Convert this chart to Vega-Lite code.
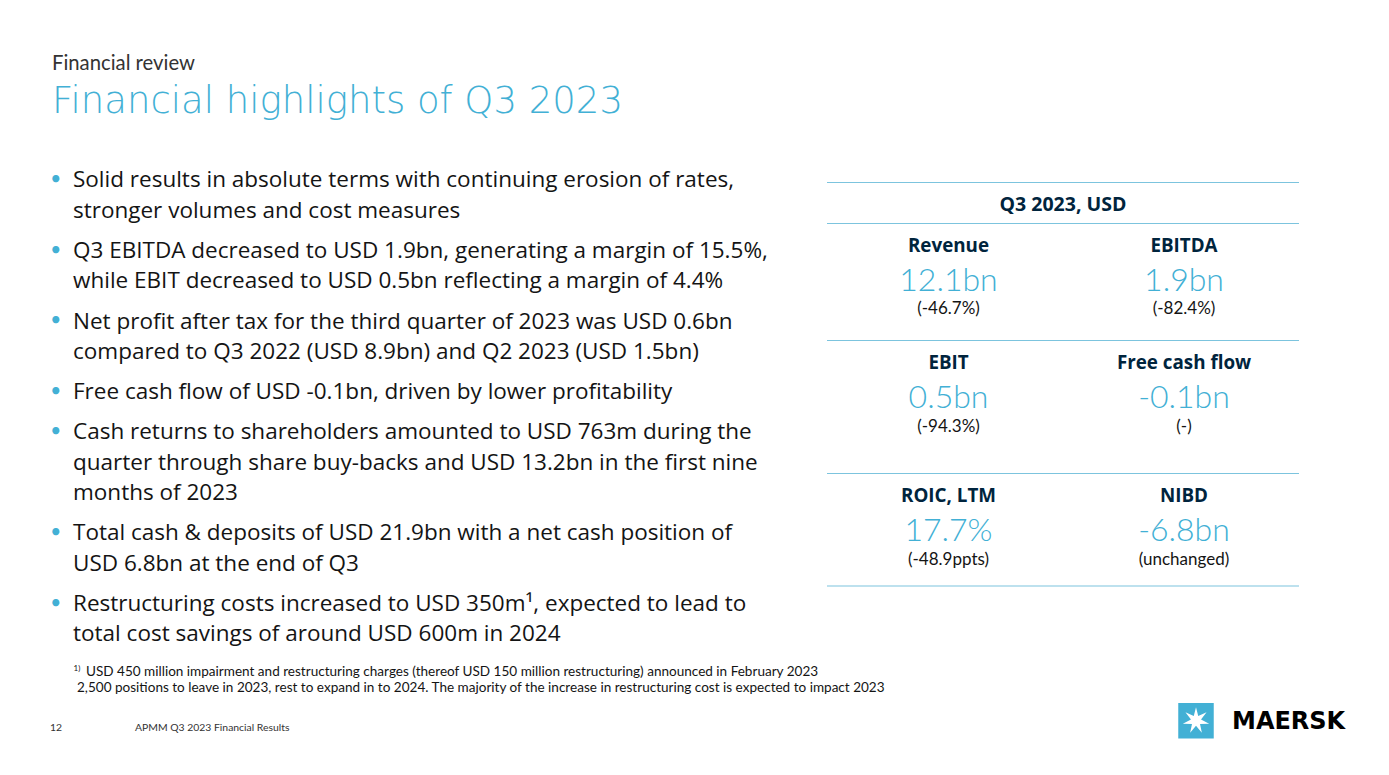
{
  "$schema": "https://vega.github.io/schema/vega-lite/v6.json",
  "width": 1389,
  "height": 775,
  "padding": 0,
  "autosize": {"type": "fit", "contains": "padding"},
  "background": "#ffffff",
  "config": {
    "view": {"stroke": null},
    "axis": {"disable": true},
    "text": {"font": "Lato", "baseline": "alphabetic", "align": "left"}
  },
  "resolve": {"scale": {"x": "independent", "y": "independent"}},
  "layer": [
    {
      "data": {"values": [
        {"role": "section", "text": "Financial review"},
        {"role": "title", "text": "Financial highlights of Q3 2023"}
      ]},
      "encoding": {
        "x": {"field": "role", "type": "nominal", "scale": {"type": "point", "padding": 0, "domain": ["section", "title"], "range": [52, 52]}},
        "y": {"field": "role", "type": "nominal", "scale": {"type": "point", "padding": 0, "domain": ["section", "title"], "range": [70, 112.7]}},
        "text": {"field": "text"}
      },
      "layer": [
        {"transform": [{"filter": "datum.role === 'section'"}], "mark": {"type": "text", "fontSize": 20.3, "color": "#333333"}},
        {"transform": [{"filter": "datum.role === 'title'"}], "mark": {"type": "text", "font": "DejaVu Sans", "fontSize": 37, "fontWeight": 300, "color": "#42B0D5"}}
      ]
    },
    {
      "data": {"values": [
        {"bullet": 1, "text": "Solid results in absolute terms with continuing erosion of rates,\nstronger volumes and cost measures"},
        {"bullet": 2, "text": "Q3 EBITDA decreased to USD 1.9bn, generating a margin of 15.5%,\nwhile EBIT decreased to USD 0.5bn reflecting a margin of 4.4%"},
        {"bullet": 3, "text": "Net profit after tax for the third quarter of 2023 was USD 0.6bn\ncompared to Q3 2022 (USD 8.9bn) and Q2 2023 (USD 1.5bn)"},
        {"bullet": 4, "text": "Free cash flow of USD -0.1bn, driven by lower profitability"},
        {"bullet": 5, "text": "Cash returns to shareholders amounted to USD 763m during the\nquarter through share buy-backs and USD 13.2bn in the first nine\nmonths of 2023"},
        {"bullet": 6, "text": "Total cash & deposits of USD 21.9bn with a net cash position of\nUSD 6.8bn at the end of Q3"},
        {"bullet": 7, "text": "Restructuring costs increased to USD 350m¹, expected to lead to\ntotal cost savings of around USD 600m in 2024"}
      ]},
      "encoding": {
        "x": {"field": "bullet", "type": "quantitative", "scale": {"domain": [1, 7], "range": [73, 73], "zero": false, "nice": false}},
        "y": {"field": "bullet", "type": "quantitative", "scale": {"domain": [1, 2, 3, 4, 5, 6, 7], "range": [187.3, 257.9, 328.5, 399.1, 439.3, 540.3, 610.9], "zero": false, "nice": false}}
      },
      "layer": [
        {"mark": {"type": "text", "text": "•", "fontSize": 19, "color": "#42B0D5", "align": "center", "dx": -17.3, "dy": -2.4}},
        {"mark": {"type": "text", "font": "Open Sans", "fontSize": 22.5, "color": "#141414", "lineBreak": "\n", "lineHeight": 30.4}, "encoding": {"text": {"field": "text"}}}
      ]
    },
    {
      "data": {"values": [{"boundary": 1}, {"boundary": 2}, {"boundary": 3}, {"boundary": 4}, {"boundary": 5}]},
      "mark": {"type": "rule", "color": "#7CC4DE", "strokeWidth": 1.2},
      "encoding": {
        "y": {"field": "boundary", "type": "quantitative", "scale": {"domain": [1, 2, 3, 4, 5], "range": [182.5, 223.5, 340.5, 473.5, 586], "zero": false, "nice": false}},
        "x": {"datum": 0, "type": "quantitative", "scale": {"domain": [0, 1], "range": [827, 1299], "zero": false, "nice": false}},
        "x2": {"datum": 1}
      }
    },
    {
      "data": {"values": [{"header": "Q3 2023, USD"}]},
      "mark": {"type": "text", "align": "center", "fontSize": 19.5, "font": "Open Sans", "fontWeight": "bold", "color": "#00243D"},
      "encoding": {
        "text": {"field": "header"},
        "x": {"field": "header", "type": "nominal", "scale": {"type": "point", "range": [1063, 1063]}},
        "y": {"field": "header", "type": "nominal", "scale": {"type": "point", "range": [211, 211]}}
      }
    },
    {
      "data": {"values": [
        {"metric": "Revenue", "value": "12.1bn", "change": "(-46.7%)", "col": 1, "row": 1},
        {"metric": "EBITDA", "value": "1.9bn", "change": "(-82.4%)", "col": 2, "row": 1},
        {"metric": "EBIT", "value": "0.5bn", "change": "(-94.3%)", "col": 1, "row": 2},
        {"metric": "Free cash flow", "value": "-0.1bn", "change": "(-)", "col": 2, "row": 2},
        {"metric": "ROIC, LTM", "value": "17.7%", "change": "(-48.9ppts)", "col": 1, "row": 3},
        {"metric": "NIBD", "value": "-6.8bn", "change": "(unchanged)", "col": 2, "row": 3}
      ]},
      "encoding": {
        "x": {"field": "col", "type": "quantitative", "scale": {"domain": [1, 2], "range": [948.5, 1184], "zero": false, "nice": false}},
        "y": {"field": "row", "type": "quantitative", "scale": {"domain": [1, 2, 3], "range": [251.7, 369, 502], "zero": false, "nice": false}}
      },
      "layer": [
        {"mark": {"type": "text", "align": "center", "fontSize": 18.8, "font": "Open Sans", "fontWeight": "bold", "color": "#00243D"}, "encoding": {"text": {"field": "metric"}}},
        {"mark": {"type": "text", "align": "center", "fontSize": 32, "fontWeight": 300, "color": "#42B0D5", "dy": 39}, "encoding": {"text": {"field": "value"}}},
        {"mark": {"type": "text", "align": "center", "fontSize": 17, "color": "#141414", "dy": 62.5}, "encoding": {"text": {"field": "change"}}}
      ]
    },
    {
      "data": {"values": [
        {"line": 1, "marker": "1)", "text": "USD 450 million impairment and restructuring charges (thereof USD 150 million restructuring) announced in February 2023"},
        {"line": 2, "text": "2,500 positions to leave in 2023, rest to expand in to 2024. The majority of the increase in restructuring cost is expected to impact 2023"}
      ]},
      "encoding": {
        "x": {"field": "line", "type": "quantitative", "scale": {"domain": [1, 2], "range": [86, 77], "zero": false, "nice": false}},
        "y": {"field": "line", "type": "quantitative", "scale": {"domain": [1, 2], "range": [676, 692], "zero": false, "nice": false}}
      },
      "layer": [
        {"mark": {"type": "text", "fontSize": 13.55, "color": "#141414"}, "encoding": {"text": {"field": "text"}}},
        {"transform": [{"filter": "isValid(datum.marker)"}], "mark": {"type": "text", "fontSize": 8, "color": "#141414", "dx": -12.5, "dy": -5.3}, "encoding": {"text": {"field": "marker"}}}
      ]
    },
    {
      "data": {"values": [
        {"item": "page", "text": "12"},
        {"item": "deck", "text": "APMM Q3 2023 Financial Results"}
      ]},
      "mark": {"type": "text", "fontSize": 10.4, "color": "#333333"},
      "encoding": {
        "text": {"field": "text"},
        "x": {"field": "item", "type": "nominal", "scale": {"type": "point", "padding": 0, "domain": ["page", "deck"], "range": [50, 135]}},
        "y": {"field": "item", "type": "nominal", "scale": {"type": "point", "padding": 0, "domain": ["page", "deck"], "range": [730.5, 730.5]}}
      }
    },
    {
      "data": {"values": [{"brand": "MAERSK"}]},
      "encoding": {
        "x": {"field": "brand", "type": "nominal", "scale": {"type": "point", "range": [1196, 1196]}},
        "y": {"field": "brand", "type": "nominal", "scale": {"type": "point", "range": [720.7, 720.7]}}
      },
      "layer": [
        {"mark": {"type": "point", "shape": "square", "filled": true, "size": 1260, "color": "#42B0D5", "opacity": 1, "strokeWidth": 0}},
        {"mark": {"type": "point", "shape": "M0,-1L0.165,-0.342L0.782,-0.624L0.371,-0.085L0.975,0.223L0.297,0.237L0.434,0.901L0,0.38L-0.434,0.901L-0.297,0.237L-0.975,0.223L-0.371,-0.085L-0.782,-0.624L-0.165,-0.342Z", "filled": true, "size": 729, "color": "#ffffff", "opacity": 1, "strokeWidth": 0}},
        {"mark": {"type": "text", "font": "DejaVu Sans", "fontWeight": "bold", "fontSize": 24, "color": "#000000", "dx": 36, "dy": 8.6}, "encoding": {"text": {"field": "brand"}}}
      ]
    }
  ]
}
